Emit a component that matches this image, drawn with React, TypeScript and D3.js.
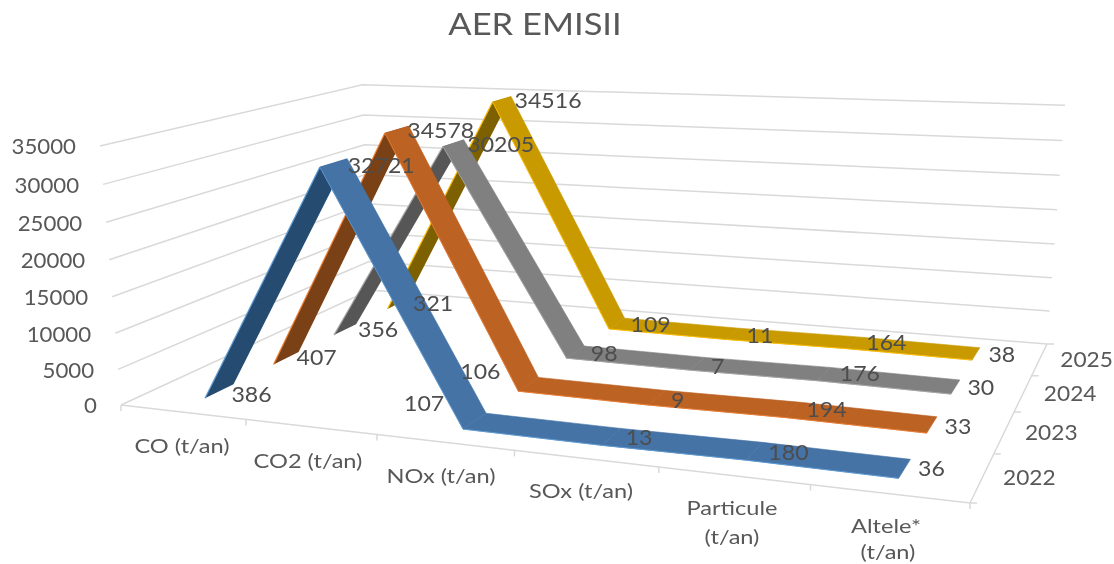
import React from "react";
import * as d3 from "d3";

const title = "AER EMISII";
const categories = ["CO (t/an)", "CO2 (t/an)", "NOx (t/an)", "SOx (t/an)", "Particule (t/an)", "Altele* (t/an)"];
const years = ["2022", "2023", "2024", "2025"];
const values2022 = [386, 32721, 107, 13, 180, 36];
const values2023 = [407, 34578, 106, 9, 194, 33];
const values2024 = [356, 30205, 98, 7, 176, 30];
const values2025 = [321, 34516, 109, 11, 164, 38];
const seriesValues = [values2022, values2023, values2024, values2025];
const valueTicks = [0, 5000, 10000, 15000, 20000, 25000, 30000, 35000];

// layout, kept apart from the data
const topFace = ["#4473A6", "#BC6224", "#808080", "#C89A00"];
const darkFace = ["#264B70", "#7A4013", "#565656", "#7D6000"];
const edge = ["#5B9BD5", "#ED7D31", "#A5A5A5", "#FFC000"];
const labelNudges = [
  [[18, 10], [34, 7], [-62, -10], [18, 9], [26, 10], [21, 9]],
  [[18, 6], [32, 5], [-58, -6], [12, 10], [28, 8], [21, 10]],
  [[22, 5], [37, 5], [20, 8], [13, 9], [30, 6], [21, 8]],
  [[26, 4], [37, 4], [26, 6], [21, 7], [29, 6], [22, 7]],
];
const categoryLabelSpots = [
  [182, 446], [308, 461], [441, 476], [581, 491], [732, 508], [886, 526],
];
const categoryLineGaps = [28, 28, 28, 28, 29, 26];
const yearLabelNudge = [19, 0];

// corners of the plot box on screen
const A = [121, 405], B = [970, 503], C = [1047, 344], D = [370, 290];
const At = [100, 146], Ct = [1065, 112];
const uWarp = 0.056;

function floorMatrix() {
  const [x0, y0] = A, [x1, y1] = B, [x2, y2] = C, [x3, y3] = D;
  const dx1 = x1 - x2, dx2 = x3 - x2, sx = x0 - x1 + x2 - x3;
  const dy1 = y1 - y2, dy2 = y3 - y2, sy = y0 - y1 + y2 - y3;
  const den = dx1 * dy2 - dx2 * dy1;
  const g = (sx * dy2 - dx2 * sy) / den;
  const h = (dx1 * sy - sx * dy1) / den;
  return {
    a: x1 - x0 + g * x1, b: x3 - x0 + h * x3, c: x0,
    d: y1 - y0 + g * y1, e: y3 - y0 + h * y3, f: y0, g, h,
  };
}
const M = floorMatrix();
const Wc = M.g + M.h + 1;
const Xc = M.a + M.b + M.c;
// solved on x: the y equation is ill-conditioned because both top corners sit at about the same height
const J = (Ct[0] * Wc - Xc + A[0] - At[0]) / (At[0] - Ct[0]);
const Cx = At[0] * (1 + J) - A[0];
const Cy = At[1] * (1 + J) - A[1];

function project(u0: number, v: number, t: number): [number, number] {
  const u = u0 + uWarp * u0 * (1 - u0);
  const w = M.g * u + M.h * v + 1 + J * t;
  return [
    (M.a * u + M.b * v + M.c + Cx * t) / w,
    (M.d * u + M.e * v + M.f + Cy * t) / w,
  ];
}

const uScale = d3.scaleBand<string>().domain(categories).range([0, 1]);
const vScale = d3.scaleBand<string>().domain(years).range([0, 1]);
const tScale = d3.scaleLinear().domain([0, 35000]).range([0, 1]);
const linePath = d3.line<[number, number]>();
const quad = (pts: [number, number][]) => linePath(pts) + "Z";

const ink = "#595959";
const grid = "#D9D9D9";
const font = "Lato, 'Open Sans', sans-serif";

function Label(props: { x: number; y: number; sx: number; size: number; fill?: string; children: React.ReactNode; anchor?: string }) {
  const { x, y, sx, size, fill, children, anchor } = props;
  return (
    <text
      transform={`translate(${x},${y}) scale(${sx},1)`}
      dy="0.35em"
      textAnchor={anchor ?? "middle"}
      fontFamily={font}
      fontSize={size}
      fill={fill ?? ink}
    >
      {children}
    </text>
  );
}

export default function App() {
  const bw = vScale.bandwidth();
  const ribbons = seriesValues.map((vals, s) => {
    const v0 = vScale(years[s])! + bw * 0.3;
    const v1 = vScale(years[s])! + bw * 0.7;
    const pts = vals.map((val, i) => {
      const u = uScale(categories[i])! + uScale.bandwidth() / 2;
      const t = tScale(val);
      return { front: project(u, v0, t), back: project(u, v1, t) };
    });
    return { s, pts };
  });

  return (
    <svg
      width={1114}
      height={564}
      style={{ position: "absolute", left: 0, top: 0, background: "#fff" }}
    >
      <defs>
        <filter id="soft" x="-2%" y="-2%" width="104%" height="104%">
          <feGaussianBlur stdDeviation="0.45" />
        </filter>
      </defs>
      <g filter="url(#soft)">
        <Label x={535} y={24} sx={1.15} size={30}>{title}</Label>

        {valueTicks.map((tick) => {
          const t = tScale(tick);
          const p = project(0, 0, t);
          return (
            <g key={tick}>
              <path
                d={linePath([p, project(0, 1, t), project(1, 1, t)])!}
                fill="none"
                stroke={grid}
                strokeWidth={1.5}
              />
              <Label x={p[0] - 24} y={p[1] + 1} sx={1.06} size={21} anchor="end">{tick}</Label>
            </g>
          );
        })}

        <path d={linePath([project(0, 0, 0), project(1, 0, 0), project(1, 1, 0)])!} fill="none" stroke={grid} strokeWidth={1.5} />
        {d3.range(0, categories.length + 1).map((i) => {
          const p = project(i / categories.length, 0, 0);
          return <line key={i} x1={p[0]} y1={p[1]} x2={p[0]} y2={p[1] + 6} stroke={grid} strokeWidth={1.5} />;
        })}
        {d3.range(0, years.length + 1).map((i) => {
          const p = project(1, i / years.length, 0);
          return <line key={i} x1={p[0]} y1={p[1]} x2={p[0] + 7} y2={p[1]} stroke={grid} strokeWidth={1.5} />;
        })}

        {categories.map((c, i) => {
          const [x, y] = categoryLabelSpots[i];
          const parts = c.length > 11 ? c.split(" ") : [c];
          return parts.map((part, k) => (
            <Label key={c + k} x={x + (i === 5 ? k * 2 : 0)} y={y + k * categoryLineGaps[i]} sx={1.18} size={20}>{part}</Label>
          ));
        })}

        {years.map((yr) => {
          const p = project(1, vScale(yr)! + bw / 2, 0);
          return (
            <Label key={yr} x={p[0] + yearLabelNudge[0] + 28} y={p[1] + yearLabelNudge[1]} sx={1.08} size={21}>{yr}</Label>
          );
        })}

        {[...ribbons].reverse().map(({ s, pts }) => (
          <g key={s}>
            {d3.pairs(pts).map(([p, q], i) =>
              q.front[1] < p.front[1] ? (
                <g key={i}>
                  <path d={quad([p.front, p.back, q.back, q.front])} fill={darkFace[s]} />
                  <path d={linePath([p.front, q.front])!} fill="none" stroke={edge[s]} strokeWidth={1.2} />
                </g>
              ) : null
            )}
            {d3.pairs(pts).map(([p, q], i) =>
              q.front[1] < p.front[1] ? null : (
                <g key={i}>
                  <path d={quad([p.front, p.back, q.back, q.front])} fill={topFace[s]} stroke={topFace[s]} strokeWidth={0.6} />
                  <path d={linePath([p.front, q.front])!} fill="none" stroke={edge[s]} strokeWidth={0.9} />
                </g>
              )
            )}
          </g>
        ))}

        {ribbons.map(({ s, pts }) =>
          pts.map((p, i) => (
            <Label
              key={s + "-" + i}
              x={p.back[0] + labelNudges[s][i][0]}
              y={p.back[1] + labelNudges[s][i][1]}
              sx={1.1}
              size={21}
              fill="#4d4d4d"
            >
              {seriesValues[s][i]}
            </Label>
          ))
        )}
      </g>
    </svg>
  );
}
